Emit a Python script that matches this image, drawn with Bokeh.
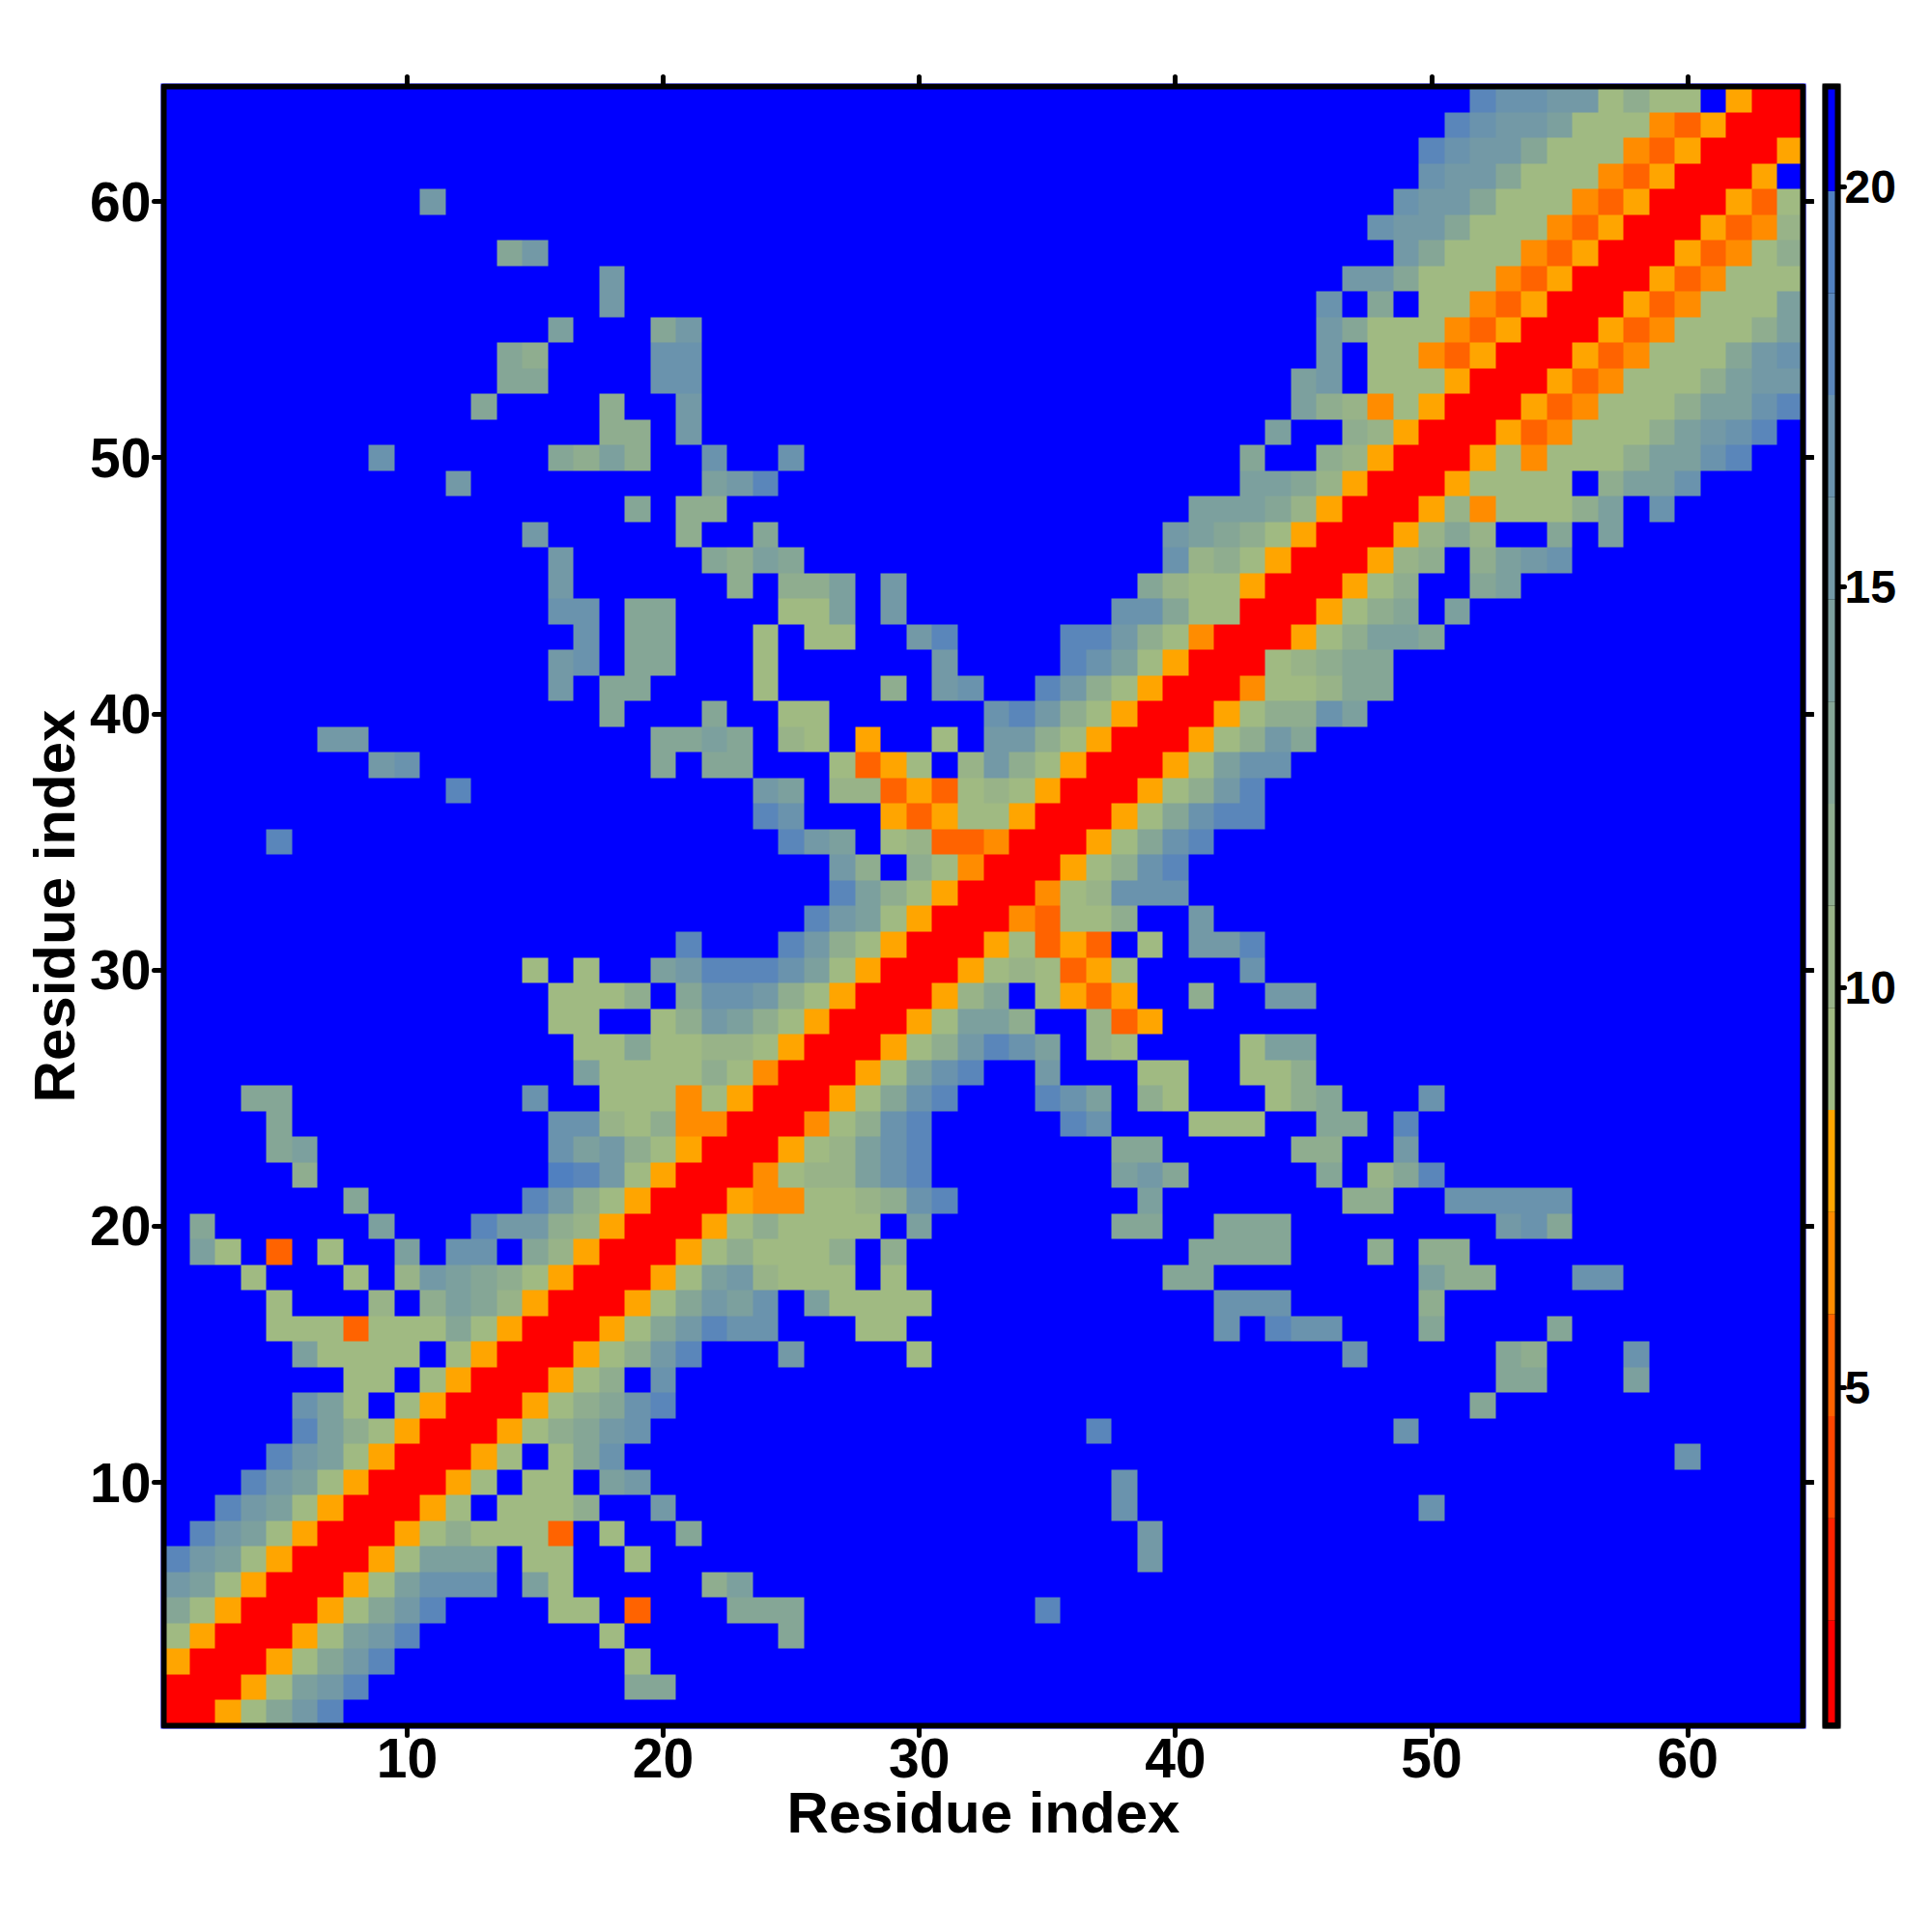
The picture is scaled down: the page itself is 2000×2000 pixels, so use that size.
from bokeh.embed import file_html
from bokeh.resources import INLINE
from bokeh.plotting import figure
from bokeh.layouts import row
from bokeh.models import FixedTicker, LinearAxis, LinearColorMapper, Range1d
import numpy as np

# colour levels (16 bands of the colour bar, low to high)
palette = ["#ff0000", "#ff2300", "#ff4600", "#ff6300", "#ff8c00", "#ffa500",
           "#a0ba82", "#98b388", "#8fad8f", "#85a696", "#7ca09e", "#7399a6",
           "#6a93ad", "#5a86ba", "#5080c0", "#0000ff"]
level_of = {"#": 0, "e": 3, "d": 4, "o": 5, "1": 6, "2": 7, "3": 8, "4": 9,
            "5": 10, "6": 11, "7": 12, "8": 13, "9": 14, ".": 15}
cbar_low, cbar_high = 0.81, 21.23
n_res = 64
axis_ticks = [10, 20, 30, 40, 50, 60]
cbar_ticks = [5, 10, 15, 20]
axis_title = "Residue index"

# row -> list of (first column, level codes); everything else is level "."
cells = {
 1: [(1, "##o1468")],
 2: [(1, "###o1568"), (19, "44")],
 3: [(1, "o###o1468"), (19, "1")],
 4: [(1, "1o###o1568"), (18, "1"), (25, "4")],
 5: [(1, "41o###o1468"), (16, "11"), (19, "e"), (23, "444"), (35, "8")],
 6: [(1, "651o###o15777"), (15, "51"), (22, "35")],
 7: [(1, "8651o###o1555"), (15, "11"), (19, "1"), (39, "6")],
 8: [(2, "8651o###o13111e"), (18, "1"), (21, "4"), (39, "6")],
 9: [(3, "8651o###o1"), (14, "1113"), (20, "6"), (38, "7"), (50, "7")],
 10: [(4, "8651o###o1"), (15, "11"), (18, "56"), (38, "7")],
 11: [(5, "8651o###o1"), (16, "147"), (60, "7")],
 12: [(6, "8531o###o13467"), (37, "8"), (49, "7")],
 13: [(6, "751"), (10, "1o###o13478"), (52, "4")],
 14: [(8, "11"), (11, "1o###o13"), (20, "7"), (53, "44"), (58, "5")],
 15: [(6, "51111"), (12, "1o###o1368"), (25, "6"), (30, "1"), (47, "7"), (53, "43"), (58, "7")],
 16: [(5, "111e11141o###o146877"), (28, "11"), (42, "7"), (44, "877"), (50, "4"), (55, "4")],
 17: [(5, "1"), (9, "2"), (11, "3542o###o14657"), (26, "51111"), (42, "777"), (50, "3")],
 18: [(4, "1"), (8, "1"), (10, "265431o###o1562111"), (29, "1"), (40, "44"), (50, "533"), (56, "77")],
 19: [(2, "51"), (5, "e"), (7, "1"), (10, "5"), (12, "77"), (15, "42o###o131113"), (29, "3"), (41, "4444"), (48, "3"), (50, "33")],
 20: [(2, "4"), (9, "5"), (13, "86632o###o131111"), (30, "5"), (38, "44"), (42, "444"), (53, "674")],
 21: [(8, "4"), (15, "8631o###odd112378"), (39, "5"), (47, "33"), (51, "77777")],
 22: [(6, "3"), (16, "9861o###d122578"), (38, "564"), (46, "4"), (48, "248")],
 23: [(5, "45"), (16, "75631o###o12578"), (38, "44"), (45, "33"), (49, "6")],
 24: [(5, "4"), (16, "77213dd###d1378"), (36, "87"), (41, "111"), (46, "44"), (49, "8")],
 25: [(4, "44"), (15, "7"), (18, "111d1o###o1478"), (35, "875"), (39, "31"), (44, "134"), (50, "7")],
 26: [(17, "5111131d###o1578"), (35, "6"), (39, "11"), (43, "113")],
 27: [(17, "11411221o###o136875"), (37, "21"), (43, "155")],
 28: [(16, "11"), (20, "136531o###o1553"), (37, "2eo")],
 29: [(16, "1113"), (21, "477631o###o24"), (35, "1oeo"), (41, "3"), (44, "66")],
 30: [(15, "1"), (17, "1"), (20, "56888751o###o121eo1"), (43, "7")],
 31: [(21, "8"), (25, "8631o###o1eoe"), (39, "1"), (41, "66"), (43, "8")],
 32: [(26, "8651o###de113"), (41, "6")],
 33: [(27, "8531o###d12777")],
 34: [(27, "63"), (30, "31d###o1378")],
 35: [(5, "8"), (25, "865"), (29, "12eed###o1478")],
 36: [(24, "87"), (29, "oeo11o###o14788")],
 37: [(12, "8"), (24, "65"), (27, "22eoe121o###o1368")],
 38: [(9, "67"), (20, "4"), (22, "44"), (27, "1eo1"), (32, "2631o###o1577")],
 39: [(7, "66"), (20, "4454"), (25, "21"), (28, "o"), (31, "1"), (33, "6631o###o1364")],
 40: [(18, "4"), (22, "4"), (25, "11"), (33, "78631o###o13375")],
 41: [(16, "6"), (18, "44"), (24, "1"), (29, "3"), (31, "67"), (35, "8631o###d11244")],
 42: [(16, "67"), (19, "44"), (24, "1"), (31, "6"), (36, "8751o###12344")],
 43: [(17, "7"), (19, "44"), (24, "1"), (26, "11"), (30, "68"), (36, "88631d###o13554")],
 44: [(16, "77"), (19, "44"), (25, "115"), (29, "6"), (38, "77411###o134"), (51, "5")],
 45: [(16, "6"), (23, "3"), (25, "335"), (29, "6"), (39, "4211o###o13"), (52, "45")],
 46: [(16, "6"), (22, "4354"), (40, "7231o###o23"), (52, "3567")],
 47: [(15, "6"), (21, "3"), (24, "4"), (40, "65431o###o242"), (55, "4"), (57, "5")],
 48: [(19, "4"), (21, "33"), (41, "55542o###o2d11135"), (59, "7")],
 49: [(12, "6"), (22, "568"), (43, "5542o###o1111"), (57, "3557")],
 50: [(9, "7"), (16, "4353"), (22, "7"), (25, "7"), (43, "4"), (46, "32o###o1d11135578")],
 51: [(18, "33"), (21, "6"), (44, "5"), (47, "32o###oed11135678")],
 52: [(13, "4"), (18, "3"), (21, "6"), (45, "532d1o###oed11135578")],
 53: [(14, "44"), (20, "77"), (45, "56"), (48, "111o###oed1113566")],
 54: [(14, "43"), (20, "77"), (46, "6"), (48, "11deo###oed111467")],
 55: [(16, "5"), (20, "46"), (46, "64111deo###oed11135")],
 56: [(18, "6"), (46, "7"), (48, "4"), (50, "11deo###oed1115")],
 57: [(18, "6"), (47, "664"), (50, "111deo###oed111")],
 58: [(14, "46"), (49, "64"), (51, "111deo###oed13")],
 59: [(48, "7664"), (52, "111deo###oed2")],
 60: [(11, "6"), (49, "7664111deo###oe1")],
 61: [(50, "7664111deo###o")],
 62: [(50, "87664111deo###o")],
 63: [(51, "87665111deo###")],
 64: [(52, "877661311"), (62, "o##")],
}

band = (cbar_high - cbar_low) / len(palette)
matrix = np.full((n_res, n_res), cbar_low + band * 15.5)
for r, segs in cells.items():
    for c0, s in segs:
        for k, ch in enumerate(s):
            matrix[r - 1, c0 - 1 + k] = cbar_low + band * (level_of[ch] + 0.5)

FONT = "Liberation Sans"
mapper = LinearColorMapper(palette=palette, low=cbar_low, high=cbar_high)
border = 6                      # frame line width, px
cell_px = 1697 / n_res
lo, hi = 0.5, n_res + 0.5
pad = (border / 2) / cell_px

p = figure(frame_width=1703, frame_height=1703, output_backend="svg", toolbar_location=None,
           x_range=Range1d(lo - pad, hi + pad), y_range=Range1d(lo - pad, hi + pad),
           min_border_left=166, min_border_top=86, min_border_right=9, min_border_bottom=122,
           background_fill_color="#0000ff", border_fill_color="white",
           x_axis_label=axis_title, y_axis_label=axis_title)
p.image(image=[matrix], x=0.5, y=0.5, dw=n_res, dh=n_res, color_mapper=mapper)
p.quad(left=[lo], right=[hi], bottom=[lo], top=[hi], fill_color=None,
       line_color="black", line_width=border, line_join="round")
p.grid.visible = False
p.outline_line_color = None
for ax in p.axis:
    ax.ticker = FixedTicker(ticks=axis_ticks)
    ax.axis_line_color = None
    ax.major_tick_in = 0
    ax.major_tick_out = 7
    ax.major_tick_line_width = 5
    ax.major_tick_line_cap = "round"
    ax.major_tick_line_color = "black"
    ax.minor_tick_line_color = None
    ax.major_label_standoff = 3
    ax.major_label_text_font = FONT
    ax.major_label_text_font_style = "bold"
    ax.major_label_text_font_size = "57px"
    ax.major_label_text_color = "black"
    ax.axis_label_text_font = FONT
    ax.axis_label_text_font_style = "bold"
    ax.axis_label_text_font_size = "60px"
    ax.axis_label_text_color = "black"
    ax.axis_label_standoff = 0

# unlabelled ticks along the top and the right edge of the frame (minor ticks carry no text)
for side in ("above", "right"):
    edge = LinearAxis(ticker=FixedTicker(ticks=[], minor_ticks=axis_ticks),
                      axis_line_color=None, major_tick_line_color=None,
                      minor_tick_in=0, minor_tick_out=7, minor_tick_line_width=5,
                      minor_tick_line_cap="round", minor_tick_line_color="black")
    p.add_layout(edge, side)

# colour bar
val_bottom = 0.77
val_top = 21.26
val_pad = (border / 2) * (val_top - val_bottom) / 1697
x_pad = (border / 2) / 13
cb = figure(frame_width=19, frame_height=1703, output_backend="svg", toolbar_location=None,
            x_range=Range1d(-x_pad, 1 + x_pad), y_range=Range1d(val_bottom - val_pad, val_top + val_pad),
            min_border_left=8, min_border_top=86, min_border_right=70, min_border_bottom=122,
            background_fill_color="black", border_fill_color="white",
            y_axis_location="right", x_axis_location=None)
edges = [cbar_low + band * i for i in range(len(palette) + 1)]
cb.quad(left=0, right=1, bottom=edges[:-1], top=edges[1:], fill_color=palette, line_color=None)
cb.quad(left=[0], right=[1], bottom=[val_bottom], top=[val_top], fill_color=None,
        line_color="black", line_width=border, line_join="round")
cb.grid.visible = False
cb.outline_line_color = None
yax = cb.yaxis[0]
yax.ticker = FixedTicker(ticks=cbar_ticks)
yax.axis_line_color = None
yax.major_tick_in = 0
yax.major_tick_out = 4
yax.major_tick_line_width = 5
yax.major_tick_line_cap = "round"
yax.minor_tick_line_color = None
yax.major_label_standoff = 0
yax.major_label_text_font = FONT
yax.major_label_text_font_style = "bold"
yax.major_label_text_font_size = "48px"
yax.major_label_text_color = "black"

layout = row(p, cb)
open("out.html", "w").write(file_html(layout, INLINE))
